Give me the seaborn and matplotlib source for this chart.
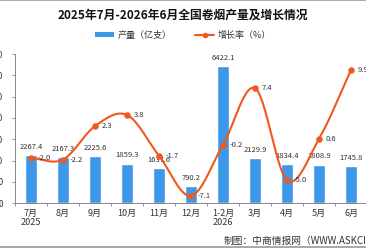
import numpy as np
import pandas as pd
import matplotlib
matplotlib.use("Agg")
import matplotlib.pyplot as plt
import seaborn as sns
from matplotlib.patches import Patch
from matplotlib.lines import Line2D

# ---- data ----
categories = ["7月\n2025", "8月", "9月", "10月", "11月", "12月", "1-2月\n2026", "3月", "4月", "5月", "6月"]
production = [2267.4, 2167.3, 2225.6, 1859.3, 1637.6, 790.2, 6422.1, 2129.9, 1834.4, 1808.9, 1745.8]
growth = [-2.0, -2.2, 2.3, 3.8, -1.7, -7.1, -0.2, 7.4, -5.0, 0.6, 9.9]
y_ticks = [0, 1000, 2000, 3000, 4000, 5000, 6000, 7000]

title = "2025年7月-2026年6月全国卷烟产量及增长情况"
legend_labels = ["产量（亿支）", "增长率（%）"]
source = "制图：中商情报网（WWW.ASKCI.COM）"

BAR_C = "#3D98EA"
LINE_C = "#F0591C"
TXT_C = "#333333"

sns.set_theme(style="white")
plt.rcParams["font.family"] = ["Noto Sans CJK SC", "DejaVu Sans"]
plt.rcParams["axes.unicode_minus"] = False

fig = plt.figure(figsize=(3.66, 2.48), dpi=100)
ax = fig.add_axes([0.041, 0.181, 0.962, 0.601])

df = pd.DataFrame({"cat": categories, "prod": production, "growth": growth})
sns.barplot(data=df, x="cat", y="prod", color=BAR_C, width=0.375, ax=ax,
            saturation=1, order=categories)
ax.set_xlim(-0.5, len(categories) - 0.5)
ax.set_ylim(0, 7000)
ax.set_yticks(y_ticks)
ax.set_yticklabels([str(v) for v in y_ticks], fontsize=6, color=TXT_C)
ax.set_xlabel("")
ax.set_ylabel("")
ax.set_xticks(range(len(categories)))
ax.set_xticklabels(categories, fontsize=6.5, color=TXT_C, linespacing=1.1)
ax.tick_params(axis="x", length=0, pad=4)
ax.tick_params(axis="y", length=2.5, width=0.6, color="#888888", pad=6, direction="out", left=True)
# boundary ticks on x
ax.set_xticks(np.arange(-0.5, len(categories) + 0.5, 1), minor=True)
ax.tick_params(axis="x", which="minor", length=2.5, width=0.6, color="#888888", bottom=True)
for s in ["top", "right"]:
    ax.spines[s].set_visible(False)
for s in ["left", "bottom"]:
    ax.spines[s].set_color("#888888")
    ax.spines[s].set_linewidth(0.7)

for i, v in enumerate(production):
    ax.annotate(f"{v:.1f}", (i, v), xytext=(0, 3), textcoords="offset points",
                ha="center", va="bottom", fontsize=5.5, color=TXT_C)

# ---- growth line on twin axis ----
ax2 = ax.twinx()
ax2.set_ylim(-8.07, 12)
ax2.set_xlim(ax.get_xlim())
ax2.axis("off")

# smooth curve (Catmull-Rom) through the data points
xs = np.arange(len(growth), dtype=float)
ys = np.array(growth, dtype=float)
px = np.concatenate([[2 * xs[0] - xs[1]], xs, [2 * xs[-1] - xs[-2]]])
py = np.concatenate([[2 * ys[0] - ys[1]], ys, [2 * ys[-1] - ys[-2]]])
cx, cy = [], []
t = np.linspace(0, 1, 30)
for i in range(1, len(px) - 2):
    for P, out in ((px, cx), (py, cy)):
        p0, p1, p2, p3 = P[i - 1], P[i], P[i + 1], P[i + 2]
        seg = 0.5 * ((2 * p1) + (-p0 + p2) * t + (2 * p0 - 5 * p1 + 4 * p2 - p3) * t ** 2
                     + (-p0 + 3 * p1 - 3 * p2 + p3) * t ** 3)
        out.extend(seg.tolist())
curve = pd.DataFrame({"x": cx, "y": cy})
sns.lineplot(data=curve, x="x", y="y", ax=ax2, color=LINE_C, linewidth=1.5, sort=False)
sns.scatterplot(x=xs, y=ys, ax=ax2, color=LINE_C, s=18, edgecolor=LINE_C, zorder=5)
for i, v in enumerate(growth):
    ax2.annotate(f"{v:.1f}", (i, v), xytext=(5, 0), textcoords="offset points",
                 ha="left", va="center", fontsize=5.5, color=TXT_C)
ax2.set_xlabel("")
ax2.set_ylabel("")

# ---- title, legend, footer ----
fig.text(0.5, 0.94, title, ha="center", va="center", fontsize=8.5, fontweight="bold", color="#111111")
handles = [Patch(facecolor=BAR_C, edgecolor="none"),
           Line2D([0], [0], color=LINE_C, linewidth=1.5, marker="o", markersize=3)]
fig.legend(handles, legend_labels, loc="center", bbox_to_anchor=(0.5, 0.858), ncol=2,
           frameon=False, fontsize=6.5, handlelength=2.2, handleheight=0.5,
           columnspacing=2.5, handletextpad=0.4, labelcolor=TXT_C)
fig.text(0.612, 0.027, source, ha="left", va="center", fontsize=7, color=TXT_C)

fig.add_artist(Line2D([0, 1], [0.998, 0.998], color="#999999", linewidth=1.2, transform=fig.transFigure))
fig.add_artist(Line2D([0, 1], [0.004, 0.004], color="#999999", linewidth=1.2, transform=fig.transFigure))

fig.savefig("out.png", dpi=100)
